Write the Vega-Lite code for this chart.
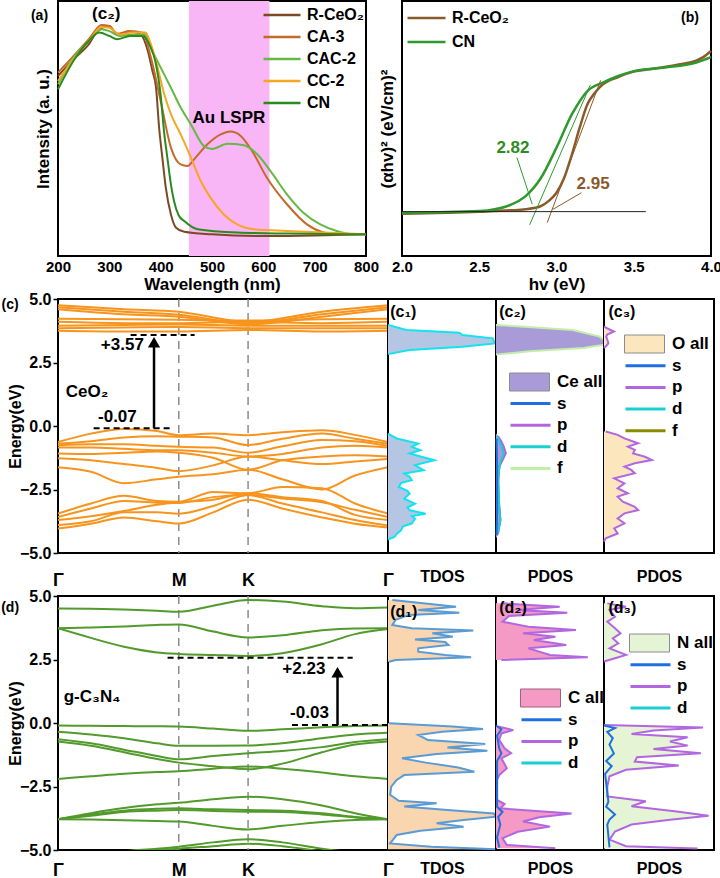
{
"$schema": "https://vega.github.io/schema/vega-lite/v6.json",
"background": "white",
"padding": {"left": 0, "top": 0, "right": 0, "bottom": 0},
"datasets": {
"uv": [
{"s":"R-CeO₂","nm":200,"I":70.6},{"s":"R-CeO₂","nm":230,"I":77.1},{"s":"R-CeO₂","nm":260,"I":83.0},{"s":"R-CeO₂","nm":280,"I":88.9},{"s":"R-CeO₂","nm":300,"I":90.2},{"s":"R-CeO₂","nm":315,"I":86.9},{"s":"R-CeO₂","nm":340,"I":88.0},{"s":"R-CeO₂","nm":360,"I":87.0},{"s":"R-CeO₂","nm":375,"I":80.4},{"s":"R-CeO₂","nm":384,"I":72.5},{"s":"R-CeO₂","nm":391,"I":66.0},{"s":"R-CeO₂","nm":397,"I":50.3},{"s":"R-CeO₂","nm":404,"I":37.3},{"s":"R-CeO₂","nm":410,"I":26.8},{"s":"R-CeO₂","nm":420,"I":16.3},{"s":"R-CeO₂","nm":430,"I":11.1},{"s":"R-CeO₂","nm":446,"I":9.5},{"s":"R-CeO₂","nm":500,"I":8.5},{"s":"R-CeO₂","nm":600,"I":7.8},{"s":"R-CeO₂","nm":700,"I":8.0},{"s":"R-CeO₂","nm":800,"I":8.5},
{"s":"CA-3","nm":200,"I":71.9},{"s":"CA-3","nm":230,"I":78.4},{"s":"CA-3","nm":260,"I":85.0},{"s":"CA-3","nm":285,"I":90.6},{"s":"CA-3","nm":300,"I":90.2},{"s":"CA-3","nm":315,"I":87.2},{"s":"CA-3","nm":340,"I":88.2},{"s":"CA-3","nm":365,"I":87.6},{"s":"CA-3","nm":381,"I":77.8},{"s":"CA-3","nm":400,"I":60.8},{"s":"CA-3","nm":420,"I":42.5},{"s":"CA-3","nm":439,"I":35.9},{"s":"CA-3","nm":452,"I":35.3},{"s":"CA-3","nm":468,"I":38.6},{"s":"CA-3","nm":491,"I":43.8},{"s":"CA-3","nm":517,"I":47.7},{"s":"CA-3","nm":536,"I":48.8},{"s":"CA-3","nm":556,"I":47.1},{"s":"CA-3","nm":578,"I":41.2},{"s":"CA-3","nm":607,"I":30.7},{"s":"CA-3","nm":646,"I":20.3},{"s":"CA-3","nm":685,"I":12.4},{"s":"CA-3","nm":717,"I":9.2},{"s":"CA-3","nm":743,"I":8.5},{"s":"CA-3","nm":800,"I":8.5},
{"s":"CAC-2","nm":200,"I":67.3},{"s":"CAC-2","nm":230,"I":77.8},{"s":"CAC-2","nm":260,"I":84.3},{"s":"CAC-2","nm":285,"I":88.9},{"s":"CAC-2","nm":300,"I":88.2},{"s":"CAC-2","nm":320,"I":86.3},{"s":"CAC-2","nm":345,"I":86.9},{"s":"CAC-2","nm":370,"I":86.9},{"s":"CAC-2","nm":381,"I":81.7},{"s":"CAC-2","nm":400,"I":73.9},{"s":"CAC-2","nm":420,"I":66.0},{"s":"CAC-2","nm":439,"I":58.2},{"s":"CAC-2","nm":459,"I":51.6},{"s":"CAC-2","nm":485,"I":43.0},{"s":"CAC-2","nm":500,"I":42.0},{"s":"CAC-2","nm":530,"I":44.0},{"s":"CAC-2","nm":560,"I":43.5},{"s":"CAC-2","nm":588,"I":39.9},{"s":"CAC-2","nm":614,"I":33.3},{"s":"CAC-2","nm":646,"I":24.2},{"s":"CAC-2","nm":678,"I":17.0},{"s":"CAC-2","nm":711,"I":12.4},{"s":"CAC-2","nm":743,"I":9.8},{"s":"CAC-2","nm":775,"I":8.5},{"s":"CAC-2","nm":800,"I":8.5},
{"s":"CC-2","nm":200,"I":68.6},{"s":"CC-2","nm":230,"I":77.1},{"s":"CC-2","nm":260,"I":84.3},{"s":"CC-2","nm":285,"I":89.8},{"s":"CC-2","nm":300,"I":89.5},{"s":"CC-2","nm":320,"I":86.9},{"s":"CC-2","nm":345,"I":87.6},{"s":"CC-2","nm":370,"I":87.6},{"s":"CC-2","nm":381,"I":83.0},{"s":"CC-2","nm":394,"I":73.9},{"s":"CC-2","nm":407,"I":63.4},{"s":"CC-2","nm":420,"I":55.6},{"s":"CC-2","nm":439,"I":47.7},{"s":"CC-2","nm":459,"I":38.6},{"s":"CC-2","nm":478,"I":29.4},{"s":"CC-2","nm":497,"I":22.9},{"s":"CC-2","nm":523,"I":16.3},{"s":"CC-2","nm":549,"I":12.4},{"s":"CC-2","nm":581,"I":10.5},{"s":"CC-2","nm":646,"I":9.8},{"s":"CC-2","nm":800,"I":8.5},
{"s":"CN","nm":200,"I":65.4},{"s":"CN","nm":230,"I":76.5},{"s":"CN","nm":260,"I":84.3},{"s":"CN","nm":280,"I":87.6},{"s":"CN","nm":300,"I":86.3},{"s":"CN","nm":315,"I":85.0},{"s":"CN","nm":340,"I":86.3},{"s":"CN","nm":365,"I":86.3},{"s":"CN","nm":380,"I":82.0},{"s":"CN","nm":390,"I":76.0},{"s":"CN","nm":400,"I":63.0},{"s":"CN","nm":407,"I":48.0},{"s":"CN","nm":413,"I":38.6},{"s":"CN","nm":420,"I":28.0},{"s":"CN","nm":426,"I":21.6},{"s":"CN","nm":435,"I":16.0},{"s":"CN","nm":446,"I":13.7},{"s":"CN","nm":472,"I":10.5},{"s":"CN","nm":550,"I":9.2},{"s":"CN","nm":650,"I":8.8},{"s":"CN","nm":800,"I":8.5}
],
"tauc": [
{"s":"R-CeO₂","ev":2.0,"v":16.6},{"s":"R-CeO₂","ev":2.5,"v":17.4},{"s":"R-CeO₂","ev":2.7,"v":17.9},{"s":"R-CeO₂","ev":2.8,"v":18.3},{"s":"R-CeO₂","ev":2.9,"v":19.6},{"s":"R-CeO₂","ev":2.95,"v":21.6},{"s":"R-CeO₂","ev":3.0,"v":24.8},{"s":"R-CeO₂","ev":3.05,"v":30.7},{"s":"R-CeO₂","ev":3.1,"v":39.9},{"s":"R-CeO₂","ev":3.15,"v":50.3},{"s":"R-CeO₂","ev":3.2,"v":59.5},{"s":"R-CeO₂","ev":3.25,"v":64.1},{"s":"R-CeO₂","ev":3.3,"v":67.3},{"s":"R-CeO₂","ev":3.4,"v":70.2},{"s":"R-CeO₂","ev":3.5,"v":72.3},{"s":"R-CeO₂","ev":3.6,"v":73.2},{"s":"R-CeO₂","ev":3.7,"v":74.1},{"s":"R-CeO₂","ev":3.8,"v":75.2},{"s":"R-CeO₂","ev":3.9,"v":76.5},{"s":"R-CeO₂","ev":3.95,"v":78.0},{"s":"R-CeO₂","ev":4.0,"v":80.4},
{"s":"CN","ev":2.0,"v":16.9},{"s":"CN","ev":2.5,"v":17.6},{"s":"CN","ev":2.6,"v":18.3},{"s":"CN","ev":2.7,"v":20.0},{"s":"CN","ev":2.8,"v":23.5},{"s":"CN","ev":2.9,"v":30.7},{"s":"CN","ev":3.0,"v":42.5},{"s":"CN","ev":3.1,"v":55.6},{"s":"CN","ev":3.2,"v":64.7},{"s":"CN","ev":3.3,"v":68.0},{"s":"CN","ev":3.4,"v":70.6},{"s":"CN","ev":3.5,"v":72.5},{"s":"CN","ev":3.7,"v":73.9},{"s":"CN","ev":3.9,"v":75.8},{"s":"CN","ev":4.0,"v":78.0}
],
"fits": [
{"f":"g1","kind":"CN","ev":2.826,"v":12.2},{"f":"g1","kind":"CN","ev":3.219,"v":67.1},
{"f":"b1","kind":"R","ev":2.94,"v":13.1},{"f":"b1","kind":"R","ev":3.286,"v":68.9},
{"f":"base","kind":"base","ev":2.0,"v":17.4},{"f":"base","kind":"base","ev":3.578,"v":17.4},
{"f":"g2","kind":"CN","ev":2.744,"v":38.6},{"f":"g2","kind":"CN","ev":2.843,"v":20.3},
{"f":"b2","kind":"R","ev":3.161,"v":24.8},{"f":"b2","kind":"R","ev":2.977,"v":18.3}
],
"cband": [
{"b":"cb1","k":0,"E":4.75},{"b":"cb1","k":0.2,"E":4.6},{"b":"cb1","k":0.366,"E":4.5},{"b":"cb1","k":0.576,"E":4.1},{"b":"cb1","k":0.8,"E":4.5},{"b":"cb1","k":1,"E":4.75},
{"b":"cb2","k":0,"E":4.68},{"b":"cb2","k":0.2,"E":4.5},{"b":"cb2","k":0.366,"E":4.38},{"b":"cb2","k":0.576,"E":4.05},{"b":"cb2","k":0.8,"E":4.4},{"b":"cb2","k":1,"E":4.68},
{"b":"cb3","k":0,"E":4.6},{"b":"cb3","k":0.2,"E":4.4},{"b":"cb3","k":0.366,"E":4.3},{"b":"cb3","k":0.576,"E":4.0},{"b":"cb3","k":0.8,"E":4.3},{"b":"cb3","k":1,"E":4.6},
{"b":"cb4","k":0,"E":4.22},{"b":"cb4","k":0.2,"E":4.2},{"b":"cb4","k":0.366,"E":4.18},{"b":"cb4","k":0.576,"E":4.15},{"b":"cb4","k":0.8,"E":4.2},{"b":"cb4","k":1,"E":4.22},
{"b":"cb5","k":0,"E":4.1},{"b":"cb5","k":0.2,"E":4.05},{"b":"cb5","k":0.366,"E":4.05},{"b":"cb5","k":0.576,"E":4.1},{"b":"cb5","k":0.8,"E":4.05},{"b":"cb5","k":1,"E":4.1},
{"b":"cb6","k":0,"E":3.95},{"b":"cb6","k":0.2,"E":3.98},{"b":"cb6","k":0.366,"E":4.0},{"b":"cb6","k":0.576,"E":3.95},{"b":"cb6","k":0.8,"E":3.95},{"b":"cb6","k":1,"E":3.95},
{"b":"cb7","k":0,"E":3.85},{"b":"cb7","k":0.2,"E":3.88},{"b":"cb7","k":0.366,"E":3.9},{"b":"cb7","k":0.576,"E":3.85},{"b":"cb7","k":0.8,"E":3.85},{"b":"cb7","k":1,"E":3.85},
{"b":"cb8","k":0,"E":3.75},{"b":"cb8","k":0.2,"E":3.72},{"b":"cb8","k":0.366,"E":3.72},{"b":"cb8","k":0.576,"E":3.78},{"b":"cb8","k":0.8,"E":3.72},{"b":"cb8","k":1,"E":3.75},
{"b":"v1","k":0,"E":-0.63},{"b":"v1","k":0.1,"E":-0.3},{"b":"v1","k":0.2,"E":-0.12},{"b":"v1","k":0.3,"E":-0.2},{"b":"v1","k":0.366,"E":-0.36},{"b":"v1","k":0.47,"E":-0.3},{"b":"v1","k":0.576,"E":-0.36},{"b":"v1","k":0.68,"E":-0.25},{"b":"v1","k":0.8,"E":-0.17},{"b":"v1","k":0.9,"E":-0.35},{"b":"v1","k":1,"E":-0.63},
{"b":"v2","k":0,"E":-0.7},{"b":"v2","k":0.1,"E":-0.6},{"b":"v2","k":0.2,"E":-0.45},{"b":"v2","k":0.3,"E":-0.4},{"b":"v2","k":0.366,"E":-0.42},{"b":"v2","k":0.47,"E":-0.45},{"b":"v2","k":0.576,"E":-0.75},{"b":"v2","k":0.68,"E":-0.5},{"b":"v2","k":0.8,"E":-0.3},{"b":"v2","k":0.9,"E":-0.5},{"b":"v2","k":1,"E":-0.7},
{"b":"v3","k":0,"E":-0.76},{"b":"v3","k":0.1,"E":-0.72},{"b":"v3","k":0.2,"E":-0.72},{"b":"v3","k":0.3,"E":-0.78},{"b":"v3","k":0.366,"E":-0.82},{"b":"v3","k":0.47,"E":-0.85},{"b":"v3","k":0.576,"E":-1.05},{"b":"v3","k":0.68,"E":-0.8},{"b":"v3","k":0.8,"E":-0.55},{"b":"v3","k":0.9,"E":-0.6},{"b":"v3","k":1,"E":-0.78},
{"b":"v4","k":0,"E":-0.85},{"b":"v4","k":0.1,"E":-0.85},{"b":"v4","k":0.2,"E":-0.9},{"b":"v4","k":0.3,"E":-0.95},{"b":"v4","k":0.366,"E":-0.95},{"b":"v4","k":0.47,"E":-1.05},{"b":"v4","k":0.576,"E":-1.2},{"b":"v4","k":0.68,"E":-1.1},{"b":"v4","k":0.8,"E":-0.85},{"b":"v4","k":0.9,"E":-0.78},{"b":"v4","k":1,"E":-0.85},
{"b":"v5","k":0,"E":-1.08},{"b":"v5","k":0.1,"E":-1.1},{"b":"v5","k":0.2,"E":-1.05},{"b":"v5","k":0.3,"E":-1.0},{"b":"v5","k":0.366,"E":-1.05},{"b":"v5","k":0.47,"E":-1.25},{"b":"v5","k":0.576,"E":-1.72},{"b":"v5","k":0.68,"E":-1.35},{"b":"v5","k":0.8,"E":-1.2},{"b":"v5","k":0.9,"E":-1.15},{"b":"v5","k":1,"E":-1.2},
{"b":"v6","k":0,"E":-1.27},{"b":"v6","k":0.1,"E":-1.35},{"b":"v6","k":0.2,"E":-1.5},{"b":"v6","k":0.3,"E":-1.65},{"b":"v6","k":0.366,"E":-1.78},{"b":"v6","k":0.47,"E":-1.55},{"b":"v6","k":0.576,"E":-1.2},{"b":"v6","k":0.68,"E":-1.35},{"b":"v6","k":0.8,"E":-1.5},{"b":"v6","k":0.9,"E":-1.4},{"b":"v6","k":1,"E":-1.3},
{"b":"v7","k":0,"E":-1.62},{"b":"v7","k":0.1,"E":-1.8},{"b":"v7","k":0.2,"E":-2.25},{"b":"v7","k":0.3,"E":-2.1},{"b":"v7","k":0.366,"E":-2.0},{"b":"v7","k":0.47,"E":-1.9},{"b":"v7","k":0.576,"E":-1.72},{"b":"v7","k":0.68,"E":-2.1},{"b":"v7","k":0.8,"E":-2.5},{"b":"v7","k":0.9,"E":-1.95},{"b":"v7","k":1,"E":-1.62},
{"b":"v8","k":0,"E":-3.45},{"b":"v8","k":0.1,"E":-3.05},{"b":"v8","k":0.2,"E":-2.75},{"b":"v8","k":0.3,"E":-2.95},{"b":"v8","k":0.366,"E":-2.98},{"b":"v8","k":0.47,"E":-2.6},{"b":"v8","k":0.576,"E":-2.65},{"b":"v8","k":0.68,"E":-2.4},{"b":"v8","k":0.8,"E":-2.45},{"b":"v8","k":0.9,"E":-3.05},{"b":"v8","k":1,"E":-3.45},
{"b":"v9","k":0,"E":-3.58},{"b":"v9","k":0.1,"E":-3.25},{"b":"v9","k":0.2,"E":-2.95},{"b":"v9","k":0.3,"E":-3.02},{"b":"v9","k":0.366,"E":-3.03},{"b":"v9","k":0.47,"E":-2.8},{"b":"v9","k":0.576,"E":-2.72},{"b":"v9","k":0.68,"E":-2.85},{"b":"v9","k":0.8,"E":-3.0},{"b":"v9","k":0.9,"E":-3.3},{"b":"v9","k":1,"E":-3.58},
{"b":"v10","k":0,"E":-3.7},{"b":"v10","k":0.1,"E":-3.55},{"b":"v10","k":0.2,"E":-3.35},{"b":"v10","k":0.3,"E":-3.1},{"b":"v10","k":0.366,"E":-3.0},{"b":"v10","k":0.47,"E":-2.9},{"b":"v10","k":0.576,"E":-2.65},{"b":"v10","k":0.68,"E":-2.8},{"b":"v10","k":0.8,"E":-2.95},{"b":"v10","k":0.9,"E":-3.5},{"b":"v10","k":1,"E":-3.7},
{"b":"v11","k":0,"E":-3.9},{"b":"v11","k":0.1,"E":-3.75},{"b":"v11","k":0.2,"E":-3.4},{"b":"v11","k":0.3,"E":-3.4},{"b":"v11","k":0.366,"E":-3.45},{"b":"v11","k":0.47,"E":-3.15},{"b":"v11","k":0.576,"E":-2.72},{"b":"v11","k":0.68,"E":-3.05},{"b":"v11","k":0.8,"E":-3.4},{"b":"v11","k":0.9,"E":-3.7},{"b":"v11","k":1,"E":-3.92},
{"b":"v12","k":0,"E":-4.04},{"b":"v12","k":0.1,"E":-3.85},{"b":"v12","k":0.2,"E":-3.6},{"b":"v12","k":0.3,"E":-3.75},{"b":"v12","k":0.366,"E":-3.84},{"b":"v12","k":0.47,"E":-3.4},{"b":"v12","k":0.576,"E":-2.9},{"b":"v12","k":0.68,"E":-3.25},{"b":"v12","k":0.8,"E":-3.6},{"b":"v12","k":0.9,"E":-3.85},{"b":"v12","k":1,"E":-4.0}
],
"dband": [
{"b":"c1","k":0,"E":4.51},{"b":"c1","k":0.1,"E":4.5},{"b":"c1","k":0.2,"E":4.47},{"b":"c1","k":0.3,"E":4.42},{"b":"c1","k":0.366,"E":4.38},{"b":"c1","k":0.47,"E":4.62},{"b":"c1","k":0.576,"E":4.84},{"b":"c1","k":0.68,"E":4.78},{"b":"c1","k":0.8,"E":4.6},{"b":"c1","k":0.9,"E":4.52},{"b":"c1","k":1,"E":4.55},
{"b":"c2","k":0,"E":3.73},{"b":"c2","k":0.1,"E":3.76},{"b":"c2","k":0.2,"E":3.8},{"b":"c2","k":0.3,"E":3.86},{"b":"c2","k":0.366,"E":3.88},{"b":"c2","k":0.47,"E":3.6},{"b":"c2","k":0.576,"E":3.37},{"b":"c2","k":0.68,"E":3.45},{"b":"c2","k":0.8,"E":3.65},{"b":"c2","k":0.9,"E":3.72},{"b":"c2","k":1,"E":3.73},
{"b":"c3","k":0,"E":3.73},{"b":"c3","k":0.1,"E":3.35},{"b":"c3","k":0.2,"E":3.0},{"b":"c3","k":0.3,"E":2.78},{"b":"c3","k":0.366,"E":2.72},{"b":"c3","k":0.47,"E":2.68},{"b":"c3","k":0.576,"E":2.64},{"b":"c3","k":0.68,"E":2.75},{"b":"c3","k":0.8,"E":3.1},{"b":"c3","k":0.9,"E":3.5},{"b":"c3","k":1,"E":3.7},
{"b":"v1","k":0,"E":-0.1},{"b":"v1","k":0.1,"E":-0.11},{"b":"v1","k":0.2,"E":-0.12},{"b":"v1","k":0.3,"E":-0.13},{"b":"v1","k":0.366,"E":-0.14},{"b":"v1","k":0.47,"E":-0.22},{"b":"v1","k":0.576,"E":-0.31},{"b":"v1","k":0.68,"E":-0.25},{"b":"v1","k":0.8,"E":-0.17},{"b":"v1","k":0.9,"E":-0.12},{"b":"v1","k":1,"E":-0.1},
{"b":"v2","k":0,"E":-0.34},{"b":"v2","k":0.1,"E":-0.45},{"b":"v2","k":0.2,"E":-0.6},{"b":"v2","k":0.3,"E":-0.8},{"b":"v2","k":0.366,"E":-0.9},{"b":"v2","k":0.47,"E":-0.9},{"b":"v2","k":0.576,"E":-0.89},{"b":"v2","k":0.68,"E":-0.8},{"b":"v2","k":0.8,"E":-0.6},{"b":"v2","k":0.9,"E":-0.45},{"b":"v2","k":1,"E":-0.38},
{"b":"v3","k":0,"E":-0.64},{"b":"v3","k":0.1,"E":-0.8},{"b":"v3","k":0.2,"E":-1.05},{"b":"v3","k":0.3,"E":-1.3},{"b":"v3","k":0.366,"E":-1.43},{"b":"v3","k":0.47,"E":-1.3},{"b":"v3","k":0.576,"E":-1.19},{"b":"v3","k":0.68,"E":-1.1},{"b":"v3","k":0.8,"E":-0.95},{"b":"v3","k":0.9,"E":-0.75},{"b":"v3","k":1,"E":-0.64},
{"b":"v4","k":0,"E":-0.73},{"b":"v4","k":0.1,"E":-0.9},{"b":"v4","k":0.2,"E":-1.15},{"b":"v4","k":0.3,"E":-1.42},{"b":"v4","k":0.366,"E":-1.56},{"b":"v4","k":0.47,"E":-1.7},{"b":"v4","k":0.576,"E":-1.82},{"b":"v4","k":0.68,"E":-1.6},{"b":"v4","k":0.8,"E":-1.15},{"b":"v4","k":0.9,"E":-0.85},{"b":"v4","k":1,"E":-0.73},
{"b":"v5","k":0,"E":-2.2},{"b":"v5","k":0.1,"E":-2.1},{"b":"v5","k":0.2,"E":-2.0},{"b":"v5","k":0.3,"E":-1.93},{"b":"v5","k":0.366,"E":-1.9},{"b":"v5","k":0.47,"E":-1.8},{"b":"v5","k":0.576,"E":-1.71},{"b":"v5","k":0.68,"E":-1.8},{"b":"v5","k":0.8,"E":-1.95},{"b":"v5","k":0.9,"E":-2.1},{"b":"v5","k":1,"E":-2.2},
{"b":"v6","k":0,"E":-3.79},{"b":"v6","k":0.1,"E":-3.55},{"b":"v6","k":0.2,"E":-3.35},{"b":"v6","k":0.3,"E":-3.2},{"b":"v6","k":0.366,"E":-3.14},{"b":"v6","k":0.47,"E":-3.0},{"b":"v6","k":0.576,"E":-2.9},{"b":"v6","k":0.68,"E":-3.0},{"b":"v6","k":0.8,"E":-3.25},{"b":"v6","k":0.9,"E":-3.55},{"b":"v6","k":1,"E":-3.79},
{"b":"v7","k":0,"E":-3.79},{"b":"v7","k":0.1,"E":-3.6},{"b":"v7","k":0.2,"E":-3.45},{"b":"v7","k":0.3,"E":-3.38},{"b":"v7","k":0.366,"E":-3.36},{"b":"v7","k":0.47,"E":-3.4},{"b":"v7","k":0.576,"E":-3.43},{"b":"v7","k":0.68,"E":-3.45},{"b":"v7","k":0.8,"E":-3.55},{"b":"v7","k":0.9,"E":-3.7},{"b":"v7","k":1,"E":-3.79},
{"b":"v8","k":0,"E":-3.79},{"b":"v8","k":0.1,"E":-3.65},{"b":"v8","k":0.2,"E":-3.5},{"b":"v8","k":0.3,"E":-3.45},{"b":"v8","k":0.366,"E":-3.43},{"b":"v8","k":0.47,"E":-3.46},{"b":"v8","k":0.576,"E":-3.49},{"b":"v8","k":0.68,"E":-3.5},{"b":"v8","k":0.8,"E":-3.6},{"b":"v8","k":0.9,"E":-3.72},{"b":"v8","k":1,"E":-3.79},
{"b":"v9","k":0,"E":-3.79},{"b":"v9","k":0.1,"E":-3.8},{"b":"v9","k":0.2,"E":-3.83},{"b":"v9","k":0.3,"E":-3.86},{"b":"v9","k":0.366,"E":-3.88},{"b":"v9","k":0.47,"E":-4.05},{"b":"v9","k":0.576,"E":-4.19},{"b":"v9","k":0.68,"E":-4.05},{"b":"v9","k":0.8,"E":-3.9},{"b":"v9","k":0.9,"E":-3.82},{"b":"v9","k":1,"E":-3.79},
{"b":"v10","k":0,"E":-5.3},{"b":"v10","k":0.1,"E":-5.2},{"b":"v10","k":0.2,"E":-5.05},{"b":"v10","k":0.3,"E":-4.95},{"b":"v10","k":0.366,"E":-4.87},{"b":"v10","k":0.47,"E":-4.7},{"b":"v10","k":0.576,"E":-4.58},{"b":"v10","k":0.68,"E":-4.7},{"b":"v10","k":0.8,"E":-4.95},{"b":"v10","k":0.9,"E":-5.1},{"b":"v10","k":1,"E":-5.2},
{"b":"v11","k":0,"E":-5.4},{"b":"v11","k":0.1,"E":-5.3},{"b":"v11","k":0.2,"E":-5.15},{"b":"v11","k":0.3,"E":-5.0},{"b":"v11","k":0.366,"E":-4.95},{"b":"v11","k":0.47,"E":-4.85},{"b":"v11","k":0.576,"E":-4.75},{"b":"v11","k":0.68,"E":-4.85},{"b":"v11","k":0.8,"E":-5.05},{"b":"v11","k":0.9,"E":-5.2},{"b":"v11","k":1,"E":-5.3}
],
"c1dos": [
{"g":"cb","E":3.98,"v":0.0},{"g":"cb","E":3.78,"v":0.17},{"g":"cb","E":3.67,"v":0.66},{"g":"cb","E":3.58,"v":0.69},{"g":"cb","E":3.45,"v":0.97},{"g":"cb","E":3.25,"v":0.99},{"g":"cb","E":3.12,"v":0.69},{"g":"cb","E":2.99,"v":0.2},{"g":"cb","E":2.83,"v":0.0},
{"g":"vb","E":-0.3,"v":0.0},{"g":"vb","E":-0.49,"v":0.08},{"g":"vb","E":-0.69,"v":0.28},{"g":"vb","E":-0.82,"v":0.22},{"g":"vb","E":-0.95,"v":0.3},{"g":"vb","E":-1.08,"v":0.2},{"g":"vb","E":-1.2,"v":0.3},{"g":"vb","E":-1.35,"v":0.43},{"g":"vb","E":-1.54,"v":0.25},{"g":"vb","E":-1.74,"v":0.33},{"g":"vb","E":-1.87,"v":0.15},{"g":"vb","E":-2.0,"v":0.2},{"g":"vb","E":-2.13,"v":0.22},{"g":"vb","E":-2.25,"v":0.12},{"g":"vb","E":-2.4,"v":0.1},{"g":"vb","E":-2.55,"v":0.18},{"g":"vb","E":-2.66,"v":0.2},{"g":"vb","E":-2.86,"v":0.15},{"g":"vb","E":-3.06,"v":0.25},{"g":"vb","E":-3.2,"v":0.18},{"g":"vb","E":-3.32,"v":0.2},{"g":"vb","E":-3.45,"v":0.35},{"g":"vb","E":-3.55,"v":0.22},{"g":"vb","E":-3.65,"v":0.25},{"g":"vb","E":-3.84,"v":0.22},{"g":"vb","E":-3.95,"v":0.14},{"g":"vb","E":-4.11,"v":0.12},{"g":"vb","E":-4.25,"v":0.08},{"g":"vb","E":-4.37,"v":0.06},{"g":"vb","E":-4.47,"v":0.0}
],
"c2dos": [
{"c":"Ce all","g":"cb","E":3.98,"v":0.0},{"c":"Ce all","g":"cb","E":3.91,"v":0.25},{"c":"Ce all","g":"cb","E":3.78,"v":0.7},{"c":"Ce all","g":"cb","E":3.52,"v":0.95},{"c":"Ce all","g":"cb","E":3.39,"v":1.0},{"c":"Ce all","g":"cb","E":3.2,"v":1.0},{"c":"Ce all","g":"cb","E":3.07,"v":0.8},{"c":"Ce all","g":"cb","E":2.94,"v":0.3},{"c":"Ce all","g":"cb","E":2.81,"v":0.0},
{"c":"Ce all","g":"vb","E":-0.3,"v":0.0},{"c":"Ce all","g":"vb","E":-0.42,"v":0.03},{"c":"Ce all","g":"vb","E":-0.6,"v":0.06},{"c":"Ce all","g":"vb","E":-0.81,"v":0.08},{"c":"Ce all","g":"vb","E":-1.07,"v":0.1},{"c":"Ce all","g":"vb","E":-1.34,"v":0.07},{"c":"Ce all","g":"vb","E":-1.6,"v":0.04},{"c":"Ce all","g":"vb","E":-2.13,"v":0.03},{"c":"Ce all","g":"vb","E":-2.6,"v":0.02},{"c":"Ce all","g":"vb","E":-3.18,"v":0.04},{"c":"Ce all","g":"vb","E":-3.7,"v":0.05},{"c":"Ce all","g":"vb","E":-4.22,"v":0.03},{"c":"Ce all","g":"vb","E":-4.42,"v":0.0},
{"c":"f","g":"cb","E":3.98,"v":0.0},{"c":"f","g":"cb","E":3.91,"v":0.26},{"c":"f","g":"cb","E":3.78,"v":0.71},{"c":"f","g":"cb","E":3.52,"v":0.96},{"c":"f","g":"cb","E":3.39,"v":1.0},{"c":"f","g":"cb","E":3.2,"v":1.0},{"c":"f","g":"cb","E":3.07,"v":0.81},{"c":"f","g":"cb","E":2.94,"v":0.31},{"c":"f","g":"cb","E":2.81,"v":0.0},
{"c":"p","g":"vb","E":-0.4,"v":0.02},{"c":"p","g":"vb","E":-0.8,"v":0.07},{"c":"p","g":"vb","E":-1.07,"v":0.09},{"c":"p","g":"vb","E":-1.34,"v":0.06},{"c":"p","g":"vb","E":-1.6,"v":0.03},{"c":"p","g":"vb","E":-2.2,"v":0.02},{"c":"p","g":"vb","E":-3.2,"v":0.03},{"c":"p","g":"vb","E":-3.7,"v":0.04},{"c":"p","g":"vb","E":-4.3,"v":0.01},
{"c":"d","g":"vb","E":-0.4,"v":0.01},{"c":"d","g":"vb","E":-0.8,"v":0.05},{"c":"d","g":"vb","E":-1.1,"v":0.07},{"c":"d","g":"vb","E":-1.4,"v":0.04},{"c":"d","g":"vb","E":-2.0,"v":0.02},{"c":"d","g":"vb","E":-3.2,"v":0.03},{"c":"d","g":"vb","E":-3.7,"v":0.04},{"c":"d","g":"vb","E":-4.2,"v":0.02},
{"c":"s","g":"vb","E":-0.5,"v":0.005},{"c":"s","g":"vb","E":-1.5,"v":0.01},{"c":"s","g":"vb","E":-3.5,"v":0.01},{"c":"s","g":"vb","E":-4.3,"v":0.005}
],
"c3dos": [
{"c":"O all","g":"cb","E":3.91,"v":0.0},{"c":"O all","g":"cb","E":3.8,"v":0.05},{"c":"O all","g":"cb","E":3.72,"v":0.09},{"c":"O all","g":"cb","E":3.6,"v":0.03},{"c":"O all","g":"cb","E":3.52,"v":0.02},{"c":"O all","g":"cb","E":3.4,"v":0.03},{"c":"O all","g":"cb","E":3.26,"v":0.04},{"c":"O all","g":"cb","E":3.15,"v":0.02},{"c":"O all","g":"cb","E":3.07,"v":0.0},
{"c":"O all","g":"vb","E":-0.22,"v":0.016},{"c":"O all","g":"vb","E":-0.35,"v":0.124},{"c":"O all","g":"vb","E":-0.49,"v":0.186},{"c":"O all","g":"vb","E":-0.68,"v":0.31},{"c":"O all","g":"vb","E":-0.81,"v":0.217},{"c":"O all","g":"vb","E":-0.94,"v":0.28},{"c":"O all","g":"vb","E":-1.08,"v":0.264},{"c":"O all","g":"vb","E":-1.21,"v":0.373},{"c":"O all","g":"vb","E":-1.34,"v":0.435},{"c":"O all","g":"vb","E":-1.47,"v":0.28},{"c":"O all","g":"vb","E":-1.6,"v":0.186},{"c":"O all","g":"vb","E":-1.73,"v":0.248},{"c":"O all","g":"vb","E":-1.86,"v":0.28},{"c":"O all","g":"vb","E":-2.06,"v":0.093},{"c":"O all","g":"vb","E":-2.26,"v":0.186},{"c":"O all","g":"vb","E":-2.45,"v":0.124},{"c":"O all","g":"vb","E":-2.65,"v":0.217},{"c":"O all","g":"vb","E":-2.78,"v":0.124},{"c":"O all","g":"vb","E":-2.98,"v":0.171},{"c":"O all","g":"vb","E":-3.18,"v":0.28},{"c":"O all","g":"vb","E":-3.31,"v":0.31},{"c":"O all","g":"vb","E":-3.44,"v":0.186},{"c":"O all","g":"vb","E":-3.64,"v":0.124},{"c":"O all","g":"vb","E":-3.83,"v":0.186},{"c":"O all","g":"vb","E":-4.03,"v":0.093},{"c":"O all","g":"vb","E":-4.23,"v":0.124},{"c":"O all","g":"vb","E":-4.42,"v":0.016},{"c":"O all","g":"vb","E":-4.55,"v":0.0},
{"c":"p","g":"cb","E":3.91,"v":0.0},{"c":"p","g":"cb","E":3.8,"v":0.05},{"c":"p","g":"cb","E":3.72,"v":0.09},{"c":"p","g":"cb","E":3.6,"v":0.03},{"c":"p","g":"cb","E":3.52,"v":0.02},{"c":"p","g":"cb","E":3.4,"v":0.03},{"c":"p","g":"cb","E":3.26,"v":0.04},{"c":"p","g":"cb","E":3.15,"v":0.02},{"c":"p","g":"cb","E":3.07,"v":0.0},
{"c":"p","g":"vb","E":-0.22,"v":0.016},{"c":"p","g":"vb","E":-0.35,"v":0.124},{"c":"p","g":"vb","E":-0.49,"v":0.186},{"c":"p","g":"vb","E":-0.68,"v":0.31},{"c":"p","g":"vb","E":-0.81,"v":0.217},{"c":"p","g":"vb","E":-0.94,"v":0.28},{"c":"p","g":"vb","E":-1.08,"v":0.264},{"c":"p","g":"vb","E":-1.21,"v":0.373},{"c":"p","g":"vb","E":-1.34,"v":0.435},{"c":"p","g":"vb","E":-1.47,"v":0.28},{"c":"p","g":"vb","E":-1.6,"v":0.186},{"c":"p","g":"vb","E":-1.73,"v":0.248},{"c":"p","g":"vb","E":-1.86,"v":0.28},{"c":"p","g":"vb","E":-2.06,"v":0.093},{"c":"p","g":"vb","E":-2.26,"v":0.186},{"c":"p","g":"vb","E":-2.45,"v":0.124},{"c":"p","g":"vb","E":-2.65,"v":0.217},{"c":"p","g":"vb","E":-2.78,"v":0.124},{"c":"p","g":"vb","E":-2.98,"v":0.171},{"c":"p","g":"vb","E":-3.18,"v":0.28},{"c":"p","g":"vb","E":-3.31,"v":0.31},{"c":"p","g":"vb","E":-3.44,"v":0.186},{"c":"p","g":"vb","E":-3.64,"v":0.124},{"c":"p","g":"vb","E":-3.83,"v":0.186},{"c":"p","g":"vb","E":-4.03,"v":0.093},{"c":"p","g":"vb","E":-4.23,"v":0.124},{"c":"p","g":"vb","E":-4.42,"v":0.016},{"c":"p","g":"vb","E":-4.55,"v":0.0}
],
"d1dos": [
{"g":"cb","E":4.84,"v":0.04},{"g":"cb","E":4.58,"v":0.63},{"g":"cb","E":4.45,"v":0.28},{"g":"cb","E":4.34,"v":0.66},{"g":"cb","E":4.25,"v":0.19},{"g":"cb","E":4.06,"v":0.07},{"g":"cb","E":3.86,"v":0.04},{"g":"cb","E":3.73,"v":0.22},{"g":"cb","E":3.64,"v":0.79},{"g":"cb","E":3.53,"v":0.41},{"g":"cb","E":3.4,"v":0.6},{"g":"cb","E":3.29,"v":0.25},{"g":"cb","E":3.19,"v":0.53},{"g":"cb","E":3.07,"v":0.56},{"g":"cb","E":2.94,"v":0.28},{"g":"cb","E":2.81,"v":0.28},{"g":"cb","E":2.68,"v":0.53},{"g":"cb","E":2.59,"v":0.77},{"g":"cb","E":2.48,"v":0.07},{"g":"cb","E":2.41,"v":0.01},
{"g":"vb","E":-0.01,"v":0.01},{"g":"vb","E":-0.14,"v":0.6},{"g":"vb","E":-0.24,"v":0.88},{"g":"vb","E":-0.34,"v":0.5},{"g":"vb","E":-0.47,"v":0.28},{"g":"vb","E":-0.67,"v":0.37},{"g":"vb","E":-0.83,"v":0.9},{"g":"vb","E":-0.96,"v":0.55},{"g":"vb","E":-1.09,"v":0.92},{"g":"vb","E":-1.22,"v":0.45},{"g":"vb","E":-1.39,"v":0.13},{"g":"vb","E":-1.56,"v":0.35},{"g":"vb","E":-1.75,"v":0.65},{"g":"vb","E":-1.92,"v":0.8},{"g":"vb","E":-2.05,"v":0.15},{"g":"vb","E":-2.24,"v":0.08},{"g":"vb","E":-2.51,"v":0.03},{"g":"vb","E":-2.83,"v":0.02},{"g":"vb","E":-3.06,"v":0.1},{"g":"vb","E":-3.16,"v":0.45},{"g":"vb","E":-3.29,"v":0.15},{"g":"vb","E":-3.43,"v":0.55},{"g":"vb","E":-3.56,"v":0.98},{"g":"vb","E":-3.69,"v":1.0},{"g":"vb","E":-3.82,"v":0.7},{"g":"vb","E":-3.95,"v":0.45},{"g":"vb","E":-4.08,"v":0.7},{"g":"vb","E":-4.24,"v":0.3},{"g":"vb","E":-4.41,"v":0.08},{"g":"vb","E":-4.74,"v":0.02},{"g":"vb","E":-4.87,"v":0.4},{"g":"vb","E":-4.97,"v":1.0}
],
"d2dos": [
{"c":"C all","g":"cb","E":4.71,"v":0.05},{"c":"C all","g":"cb","E":4.58,"v":0.59},{"c":"C all","g":"cb","E":4.45,"v":0.2},{"c":"C all","g":"cb","E":4.34,"v":0.66},{"c":"C all","g":"cb","E":4.21,"v":0.12},{"c":"C all","g":"cb","E":3.99,"v":0.06},{"c":"C all","g":"cb","E":3.79,"v":0.3},{"c":"C all","g":"cb","E":3.66,"v":0.74},{"c":"C all","g":"cb","E":3.53,"v":0.25},{"c":"C all","g":"cb","E":3.4,"v":0.55},{"c":"C all","g":"cb","E":3.27,"v":0.35},{"c":"C all","g":"cb","E":3.07,"v":0.65},{"c":"C all","g":"cb","E":2.94,"v":0.3},{"c":"C all","g":"cb","E":2.81,"v":0.4},{"c":"C all","g":"cb","E":2.68,"v":0.5},{"c":"C all","g":"cb","E":2.59,"v":0.85},{"c":"C all","g":"cb","E":2.48,"v":0.05},
{"c":"C all","g":"vb","E":-0.14,"v":0.02},{"c":"C all","g":"vb","E":-0.28,"v":0.16},{"c":"C all","g":"vb","E":-0.41,"v":0.05},{"c":"C all","g":"vb","E":-0.67,"v":0.03},{"c":"C all","g":"vb","E":-1.0,"v":0.08},{"c":"C all","g":"vb","E":-1.19,"v":0.14},{"c":"C all","g":"vb","E":-1.39,"v":0.05},{"c":"C all","g":"vb","E":-1.78,"v":0.1},{"c":"C all","g":"vb","E":-2.05,"v":0.03},{"c":"C all","g":"vb","E":-2.24,"v":0.01},{"c":"C all","g":"vb","E":-3.03,"v":0.01},{"c":"C all","g":"vb","E":-3.19,"v":0.08},{"c":"C all","g":"vb","E":-3.36,"v":0.04},{"c":"C all","g":"vb","E":-3.56,"v":0.7},{"c":"C all","g":"vb","E":-3.71,"v":0.4},{"c":"C all","g":"vb","E":-3.88,"v":0.25},{"c":"C all","g":"vb","E":-4.08,"v":0.5},{"c":"C all","g":"vb","E":-4.28,"v":0.2},{"c":"C all","g":"vb","E":-4.54,"v":0.06},{"c":"C all","g":"vb","E":-4.8,"v":0.1},{"c":"C all","g":"vb","E":-4.93,"v":0.55},
{"c":"p","g":"cb","E":4.71,"v":0.05},{"c":"p","g":"cb","E":4.58,"v":0.59},{"c":"p","g":"cb","E":4.45,"v":0.2},{"c":"p","g":"cb","E":4.34,"v":0.66},{"c":"p","g":"cb","E":4.21,"v":0.12},{"c":"p","g":"cb","E":3.99,"v":0.06},{"c":"p","g":"cb","E":3.79,"v":0.3},{"c":"p","g":"cb","E":3.66,"v":0.74},{"c":"p","g":"cb","E":3.53,"v":0.25},{"c":"p","g":"cb","E":3.4,"v":0.55},{"c":"p","g":"cb","E":3.27,"v":0.35},{"c":"p","g":"cb","E":3.07,"v":0.65},{"c":"p","g":"cb","E":2.94,"v":0.3},{"c":"p","g":"cb","E":2.81,"v":0.4},{"c":"p","g":"cb","E":2.68,"v":0.5},{"c":"p","g":"cb","E":2.59,"v":0.85},{"c":"p","g":"cb","E":2.48,"v":0.05},
{"c":"p","g":"vb","E":-0.14,"v":0.02},{"c":"p","g":"vb","E":-0.28,"v":0.16},{"c":"p","g":"vb","E":-0.41,"v":0.05},{"c":"p","g":"vb","E":-0.67,"v":0.03},{"c":"p","g":"vb","E":-1.0,"v":0.08},{"c":"p","g":"vb","E":-1.19,"v":0.14},{"c":"p","g":"vb","E":-1.39,"v":0.05},{"c":"p","g":"vb","E":-1.78,"v":0.1},{"c":"p","g":"vb","E":-2.05,"v":0.03},{"c":"p","g":"vb","E":-2.24,"v":0.01},{"c":"p","g":"vb","E":-3.03,"v":0.01},{"c":"p","g":"vb","E":-3.19,"v":0.08},{"c":"p","g":"vb","E":-3.36,"v":0.04},{"c":"p","g":"vb","E":-3.56,"v":0.7},{"c":"p","g":"vb","E":-3.71,"v":0.4},{"c":"p","g":"vb","E":-3.88,"v":0.25},{"c":"p","g":"vb","E":-4.08,"v":0.5},{"c":"p","g":"vb","E":-4.28,"v":0.2},{"c":"p","g":"vb","E":-4.54,"v":0.06},{"c":"p","g":"vb","E":-4.8,"v":0.1},{"c":"p","g":"vb","E":-4.93,"v":0.55},
{"c":"s","g":"vb","E":-0.1,"v":0.0},{"c":"s","g":"vb","E":-0.25,"v":0.05},{"c":"s","g":"vb","E":-0.5,"v":0.01},{"c":"s","g":"vb","E":-1.0,"v":0.03},{"c":"s","g":"vb","E":-1.2,"v":0.05},{"c":"s","g":"vb","E":-1.5,"v":0.01},{"c":"s","g":"vb","E":-3.3,"v":0.01},{"c":"s","g":"vb","E":-3.5,"v":0.06},{"c":"s","g":"vb","E":-3.7,"v":0.02},{"c":"s","g":"vb","E":-4.0,"v":0.04},{"c":"s","g":"vb","E":-4.5,"v":0.01},{"c":"s","g":"vb","E":-4.9,"v":0.03}
],
"d3dos": [
{"c":"N all","g":"cb","E":4.71,"v":0.03},{"c":"N all","g":"cb","E":4.58,"v":0.2},{"c":"N all","g":"cb","E":4.45,"v":0.05},{"c":"N all","g":"cb","E":4.18,"v":0.1},{"c":"N all","g":"cb","E":3.99,"v":0.03},{"c":"N all","g":"cb","E":3.73,"v":0.1},{"c":"N all","g":"cb","E":3.53,"v":0.15},{"c":"N all","g":"cb","E":3.33,"v":0.08},{"c":"N all","g":"cb","E":3.14,"v":0.13},{"c":"N all","g":"cb","E":2.94,"v":0.05},{"c":"N all","g":"cb","E":2.68,"v":0.2},{"c":"N all","g":"cb","E":2.55,"v":0.1},{"c":"N all","g":"cb","E":2.42,"v":0.0},
{"c":"N all","g":"vb","E":-0.08,"v":0.0},{"c":"N all","g":"vb","E":-0.18,"v":0.95},{"c":"N all","g":"vb","E":-0.3,"v":0.45},{"c":"N all","g":"vb","E":-0.43,"v":0.25},{"c":"N all","g":"vb","E":-0.56,"v":0.8},{"c":"N all","g":"vb","E":-0.73,"v":0.6},{"c":"N all","g":"vb","E":-0.89,"v":0.8},{"c":"N all","g":"vb","E":-1.02,"v":0.45},{"c":"N all","g":"vb","E":-1.19,"v":0.93},{"c":"N all","g":"vb","E":-1.35,"v":0.3},{"c":"N all","g":"vb","E":-1.52,"v":0.28},{"c":"N all","g":"vb","E":-1.67,"v":0.72},{"c":"N all","g":"vb","E":-1.84,"v":0.2},{"c":"N all","g":"vb","E":-2.1,"v":0.05},{"c":"N all","g":"vb","E":-2.5,"v":0.03},{"c":"N all","g":"vb","E":-2.89,"v":0.03},{"c":"N all","g":"vb","E":-3.08,"v":0.4},{"c":"N all","g":"vb","E":-3.28,"v":0.25},{"c":"N all","g":"vb","E":-3.48,"v":0.7},{"c":"N all","g":"vb","E":-3.65,"v":1.0},{"c":"N all","g":"vb","E":-3.81,"v":0.6},{"c":"N all","g":"vb","E":-4.0,"v":0.25},{"c":"N all","g":"vb","E":-4.27,"v":0.1},{"c":"N all","g":"vb","E":-4.59,"v":0.05},{"c":"N all","g":"vb","E":-4.85,"v":0.2},{"c":"N all","g":"vb","E":-4.94,"v":0.9},
{"c":"p","g":"cb","E":4.71,"v":0.03},{"c":"p","g":"cb","E":4.58,"v":0.2},{"c":"p","g":"cb","E":4.45,"v":0.05},{"c":"p","g":"cb","E":4.18,"v":0.1},{"c":"p","g":"cb","E":3.99,"v":0.03},{"c":"p","g":"cb","E":3.73,"v":0.1},{"c":"p","g":"cb","E":3.53,"v":0.15},{"c":"p","g":"cb","E":3.33,"v":0.08},{"c":"p","g":"cb","E":3.14,"v":0.13},{"c":"p","g":"cb","E":2.94,"v":0.05},{"c":"p","g":"cb","E":2.68,"v":0.2},{"c":"p","g":"cb","E":2.55,"v":0.1},{"c":"p","g":"cb","E":2.42,"v":0.0},
{"c":"p","g":"vb","E":-0.08,"v":0.0},{"c":"p","g":"vb","E":-0.18,"v":0.9},{"c":"p","g":"vb","E":-0.3,"v":0.45},{"c":"p","g":"vb","E":-0.43,"v":0.25},{"c":"p","g":"vb","E":-0.56,"v":0.76},{"c":"p","g":"vb","E":-0.73,"v":0.6},{"c":"p","g":"vb","E":-0.89,"v":0.76},{"c":"p","g":"vb","E":-1.02,"v":0.45},{"c":"p","g":"vb","E":-1.19,"v":0.88},{"c":"p","g":"vb","E":-1.35,"v":0.3},{"c":"p","g":"vb","E":-1.52,"v":0.28},{"c":"p","g":"vb","E":-1.67,"v":0.68},{"c":"p","g":"vb","E":-1.84,"v":0.2},{"c":"p","g":"vb","E":-2.1,"v":0.05},{"c":"p","g":"vb","E":-2.5,"v":0.03},{"c":"p","g":"vb","E":-2.89,"v":0.03},{"c":"p","g":"vb","E":-3.08,"v":0.38},{"c":"p","g":"vb","E":-3.28,"v":0.25},{"c":"p","g":"vb","E":-3.48,"v":0.66},{"c":"p","g":"vb","E":-3.65,"v":0.95},{"c":"p","g":"vb","E":-3.81,"v":0.6},{"c":"p","g":"vb","E":-4.0,"v":0.25},{"c":"p","g":"vb","E":-4.27,"v":0.1},{"c":"p","g":"vb","E":-4.59,"v":0.05},{"c":"p","g":"vb","E":-4.85,"v":0.2},{"c":"p","g":"vb","E":-4.94,"v":0.85},
{"c":"s","g":"vb","E":-0.1,"v":0.0},{"c":"s","g":"vb","E":-0.2,"v":0.1},{"c":"s","g":"vb","E":-0.35,"v":0.03},{"c":"s","g":"vb","E":-0.6,"v":0.08},{"c":"s","g":"vb","E":-0.85,"v":0.05},{"c":"s","g":"vb","E":-1.2,"v":0.09},{"c":"s","g":"vb","E":-1.5,"v":0.02},{"c":"s","g":"vb","E":-1.7,"v":0.07},{"c":"s","g":"vb","E":-2.0,"v":0.01},{"c":"s","g":"vb","E":-3.1,"v":0.04},{"c":"s","g":"vb","E":-3.3,"v":0.02},{"c":"s","g":"vb","E":-3.6,"v":0.1},{"c":"s","g":"vb","E":-3.8,"v":0.05},{"c":"s","g":"vb","E":-4.0,"v":0.03},{"c":"s","g":"vb","E":-4.9,"v":0.05}
]
},
"vconcat": [
{"hconcat": [
 {"width": 308, "height": 255,
  "layer": [
   {"data": {"values": [{"a": 455, "b": 612}]}, "mark": {"type": "rect", "color": "#f9b6f6"},
    "encoding": {"x": {"field": "a", "type": "quantitative", "scale": {"domain": [200, 800], "nice": false}, "axis": {"values": [200,300,400,500,600,700,800], "format": "d", "ticks": false, "labelPadding": 3, "labelFontSize": 15, "title": "Wavelength (nm)", "titleFontSize": 17, "titlePadding": 2, "labelFlush": false, "labelOverlap": false, "labelBound": false}}, "x2": {"field": "b"}}},
   {"data": {"name": "uv"}, "mark": {"type": "line", "strokeWidth": 2, "interpolate": "monotone"},
    "encoding": {"x": {"field": "nm", "type": "quantitative"},
     "y": {"field": "I", "type": "quantitative", "scale": {"domain": [0, 100], "nice": false}, "axis": {"labels": false, "ticks": false, "title": "Intensity (a. u.)", "titleFontSize": 17, "titlePadding": 6}},
     "color": {"field": "s", "type": "nominal", "scale": {"domain": ["R-CeO₂","CA-3","CAC-2","CC-2","CN"], "range": ["#7b4a25","#c46a2a","#66b845","#f6a623","#2a8a1f"]},
      "legend": {"orient": "none", "legendX": 204, "legendY": 4, "title": null, "symbolType": "stroke", "symbolSize": 1369, "symbolStrokeWidth": 2.5, "clipHeight": 20, "rowPadding": 2, "labelFontSize": 16, "labelOffset": 5, "labelLimit": 200}}}},
   {"data": {"values": [{"t": "Au LSPR", "x": 533, "y": 54.2}, {"t": "(c₂)", "x": 294, "y": 94.8}]}, "mark": {"type": "text", "fontSize": 17, "fontWeight": "bold", "color": "black"},
    "encoding": {"x": {"field": "x", "type": "quantitative"}, "y": {"field": "y", "type": "quantitative"}, "text": {"field": "t"}}},
   {"data": {"values": [{"t": "(a)", "x": 164, "y": 94.1}]}, "mark": {"type": "text", "fontSize": 14, "fontWeight": "bold", "color": "black"},
    "encoding": {"x": {"field": "x", "type": "quantitative"}, "y": {"field": "y", "type": "quantitative"}, "text": {"field": "t"}}},
   {"data": {"values": [{"t": "(c)", "x": 114.5, "y": 94.1}]}, "mark": {"type": "text", "fontSize": 14, "fontWeight": "bold", "color": "black", "opacity": 0},
    "encoding": {"x": {"field": "x", "type": "quantitative"}, "y": {"field": "y", "type": "quantitative"}, "text": {"field": "t"}}}
  ]},
 {"width": 309, "height": 255,
  "layer": [
   {"data": {"name": "tauc"}, "mark": {"type": "line", "strokeWidth": 2.5, "interpolate": "monotone"},
    "encoding": {"x": {"field": "ev", "type": "quantitative", "scale": {"domain": [2, 4], "nice": false}, "axis": {"values": [2,2.5,3,3.5,4], "format": ".1f", "ticks": false, "labelPadding": 3, "labelFontSize": 15, "title": "hv (eV)", "titleFontSize": 17, "titlePadding": 2, "labelFlush": false, "labelOverlap": false, "labelBound": false}},
     "y": {"field": "v", "type": "quantitative", "scale": {"domain": [0, 100], "nice": false}, "axis": {"labels": false, "ticks": false, "title": "(αhv)² (eV/cm)²", "titleFontSize": 17, "titlePadding": 6}},
     "color": {"field": "s", "type": "nominal", "scale": {"domain": ["R-CeO₂","CN"], "range": ["#8b5a2b","#2e9a2e"]},
      "legend": {"orient": "none", "legendX": 4, "legendY": 7, "title": null, "symbolType": "stroke", "symbolSize": 1444, "symbolStrokeWidth": 2.5, "clipHeight": 20, "rowPadding": 4, "labelFontSize": 16, "labelOffset": 5, "labelLimit": 200}}}},
   {"data": {"name": "fits"}, "mark": {"type": "line", "strokeWidth": 1},
    "encoding": {"x": {"field": "ev", "type": "quantitative"}, "y": {"field": "v", "type": "quantitative"}, "detail": {"field": "f"},
     "stroke": {"field": "kind", "type": "nominal", "scale": {"domain": ["CN","R","base"], "range": ["#2e9a2e","#8b5a2b","#222222"]}, "legend": null}}},
   {"data": {"values": [{"t": "2.82", "x": 2.718, "y": 42.5}]}, "mark": {"type": "text", "fontSize": 17, "fontWeight": "bold", "color": "#2e8b1e"},
    "encoding": {"x": {"field": "x", "type": "quantitative"}, "y": {"field": "y", "type": "quantitative"}, "text": {"field": "t"}}},
   {"data": {"values": [{"t": "2.95", "x": 3.237, "y": 28.4}]}, "mark": {"type": "text", "fontSize": 17, "fontWeight": "bold", "color": "#8b5a2b"},
    "encoding": {"x": {"field": "x", "type": "quantitative"}, "y": {"field": "y", "type": "quantitative"}, "text": {"field": "t"}}},
   {"data": {"values": [{"t": "(b)", "x": 3.864, "y": 93.5}]}, "mark": {"type": "text", "fontSize": 14, "fontWeight": "bold", "color": "black"},
    "encoding": {"x": {"field": "x", "type": "quantitative"}, "y": {"field": "y", "type": "quantitative"}, "text": {"field": "t"}}}
  ]}
 ], "spacing": 36, "bounds": "flush",
 "resolve": {"scale": {"color": "independent", "stroke": "independent", "fill": "independent"}, "legend": {"color": "independent", "stroke": "independent", "fill": "independent"}}},
{"hconcat": [
 {"width": 330, "height": 254,
  "layer": [
   {"data": {"values": [{"k": 0.366}, {"k": 0.576}]}, "mark": {"type": "rule", "color": "#8c8c8c", "strokeDash": [8, 6], "strokeWidth": 1.5},
    "encoding": {"x": {"field": "k", "type": "quantitative", "scale": {"domain": [0, 1], "nice": false}, "axis": {"values": [0, 0.366, 0.576, 1], "labelExpr": "datum.value == 0 || datum.value == 1 ? 'Γ' : (datum.value < 0.5 ? 'M' : 'K')", "ticks": false, "labelPadding": 18, "labelFontSize": 18, "labelFlush": false, "labelOverlap": false, "labelBound": false, "title": null}}}},
   {"data": {"name": "cband"}, "mark": {"type": "line", "color": "#f7941d", "strokeWidth": 2, "interpolate": "monotone", "clip": true},
    "encoding": {"x": {"field": "k", "type": "quantitative"},
     "y": {"field": "E", "type": "quantitative", "scale": {"domain": [-5, 5], "nice": false}, "axis": {"values": [-5, -2.5, 0, 2.5, 5], "format": ".1f", "title": "Energy(eV)", "tickSize": 5, "labelPadding": 2, "titlePadding": -4, "labelFontSize": 16, "titleFontSize": 16}},
     "detail": {"field": "b"}}},
   {"data": {"values": [{"k1": 0.22, "k2": 0.414, "E": 3.58}, {"k1": 0.108, "k2": 0.347, "E": -0.09}]}, "mark": {"type": "rule", "color": "black", "strokeDash": [6, 4], "strokeWidth": 2},
    "encoding": {"x": {"field": "k1", "type": "quantitative"}, "x2": {"field": "k2"}, "y": {"field": "E", "type": "quantitative"}}},
   {"data": {"values": [{"k": 0.291, "E1": -0.09, "E2": 3.2}]}, "mark": {"type": "rule", "color": "black", "strokeWidth": 2.5},
    "encoding": {"x": {"field": "k", "type": "quantitative"}, "y": {"field": "E1", "type": "quantitative"}, "y2": {"field": "E2"}}},
   {"data": {"values": [{"k": 0.291, "E": 3.3}]}, "mark": {"type": "point", "shape": "triangle-up", "filled": true, "color": "black", "size": 150, "opacity": 1},
    "encoding": {"x": {"field": "k", "type": "quantitative"}, "y": {"field": "E", "type": "quantitative"}}},
   {"data": {"values": [{"t": "+3.57", "k": 0.195, "E": 3.19}, {"t": "-0.07", "k": 0.18, "E": 0.37}, {"t": "CeO₂", "k": 0.088, "E": 1.35}]}, "mark": {"type": "text", "fontSize": 17, "fontWeight": "bold", "color": "black"},
    "encoding": {"x": {"field": "k", "type": "quantitative"}, "y": {"field": "E", "type": "quantitative"}, "text": {"field": "t"}}},
   {"data": {"values": [{"t": "(c)", "k": -0.145, "E": 4.76}]}, "mark": {"type": "text", "fontSize": 14, "fontWeight": "bold", "color": "black"},
    "encoding": {"x": {"field": "k", "type": "quantitative"}, "y": {"field": "E", "type": "quantitative"}, "text": {"field": "t"}}}
  ]},
 {"width": 108, "height": 254,
  "layer": [
   {"data": {"name": "c1dos"}, "mark": {"type": "area", "orient": "horizontal", "color": "#b4c6e4", "opacity": 1},
    "encoding": {"x": {"field": "v", "type": "quantitative", "stack": null, "scale": {"domain": [0, 1], "nice": false}, "axis": {"labels": false, "ticks": false, "title": "TDOS", "titleFontSize": 16, "titlePadding": 15}},
     "y": {"field": "E", "type": "quantitative", "scale": {"domain": [-5, 5], "nice": false}, "axis": null}, "detail": {"field": "g"}}},
   {"data": {"name": "c1dos"}, "mark": {"type": "line", "color": "#12e3ee", "strokeWidth": 2},
    "encoding": {"x": {"field": "v", "type": "quantitative"}, "y": {"field": "E", "type": "quantitative"}, "detail": {"field": "g"}, "order": {"field": "E", "type": "quantitative"}}},
   {"data": {"values": [{"t": "(c₁)", "v": 0.02, "E": 4.5}]}, "mark": {"type": "text", "fontSize": 16, "fontWeight": "bold", "color": "black", "align": "left"},
    "encoding": {"x": {"field": "v", "type": "quantitative"}, "y": {"field": "E", "type": "quantitative"}, "text": {"field": "t"}}}
  ]},
 {"width": 108, "height": 254,
  "layer": [
   {"data": {"name": "c2dos"}, "transform": [{"filter": "datum.c === 'Ce all'"}], "mark": {"type": "area", "orient": "horizontal", "opacity": 1},
    "encoding": {"x": {"field": "v", "type": "quantitative", "stack": null, "scale": {"domain": [0, 1], "nice": false}, "axis": {"labels": false, "ticks": false, "title": "PDOS", "titleFontSize": 16, "titlePadding": 15}},
     "y": {"field": "E", "type": "quantitative", "scale": {"domain": [-5, 5], "nice": false}, "axis": null}, "detail": {"field": "g"},
     "fill": {"field": "c", "type": "nominal", "scale": {"domain": ["Ce all"], "range": ["#a99ad8"]},
      "legend": {"orient": "none", "legendX": 13, "legendY": 73, "title": null, "symbolType": "M-1,-0.45H1V0.45H-1Z", "symbolSize": 1600, "symbolStrokeColor": "#8c8c8c", "symbolStrokeWidth": 1, "symbolOpacity": 1, "clipHeight": 20, "labelFontSize": 17, "labelOffset": 7, "labelLimit": 200}}}},
   {"data": {"name": "c2dos"}, "transform": [{"filter": "datum.c !== 'Ce all'"}], "mark": {"type": "line", "strokeWidth": 2},
    "encoding": {"x": {"field": "v", "type": "quantitative"}, "y": {"field": "E", "type": "quantitative"}, "detail": {"field": "g"}, "order": {"field": "E", "type": "quantitative"},
     "stroke": {"field": "c", "type": "nominal", "scale": {"domain": ["s","p","d","f"], "range": ["#1f6fe0","#b266e0","#19cfcf","#c3eeaa"]},
      "legend": {"orient": "none", "legendX": 13, "legendY": 94.6, "title": null, "symbolType": "stroke", "symbolSize": 1600, "symbolStrokeWidth": 3, "clipHeight": 20, "rowPadding": 1.6, "labelFontSize": 17, "labelOffset": 5, "labelLimit": 200}}}},
   {"data": {"values": [{"t": "(c₂)", "v": 0.03, "E": 4.5}]}, "mark": {"type": "text", "fontSize": 16, "fontWeight": "bold", "color": "black", "align": "left"},
    "encoding": {"x": {"field": "v", "type": "quantitative"}, "y": {"field": "E", "type": "quantitative"}, "text": {"field": "t"}}}
  ]},
 {"width": 110, "height": 254,
  "layer": [
   {"data": {"name": "c3dos"}, "transform": [{"filter": "datum.c === 'O all'"}], "mark": {"type": "area", "orient": "horizontal", "opacity": 1},
    "encoding": {"x": {"field": "v", "type": "quantitative", "stack": null, "scale": {"domain": [0, 1], "nice": false}, "axis": {"labels": false, "ticks": false, "title": "PDOS", "titleFontSize": 16, "titlePadding": 15}},
     "y": {"field": "E", "type": "quantitative", "scale": {"domain": [-5, 5], "nice": false}, "axis": null}, "detail": {"field": "g"},
     "fill": {"field": "c", "type": "nominal", "scale": {"domain": ["O all"], "range": ["#fbe6bd"]},
      "legend": {"orient": "none", "legendX": 20, "legendY": 35, "title": null, "symbolType": "M-1,-0.45H1V0.45H-1Z", "symbolSize": 1600, "symbolStrokeColor": "#8c8c8c", "symbolStrokeWidth": 1, "symbolOpacity": 1, "clipHeight": 20, "labelFontSize": 17, "labelOffset": 7, "labelLimit": 200}}}},
   {"data": {"name": "c3dos"}, "transform": [{"filter": "datum.c !== 'O all'"}], "mark": {"type": "line", "strokeWidth": 2},
    "encoding": {"x": {"field": "v", "type": "quantitative"}, "y": {"field": "E", "type": "quantitative"}, "detail": {"field": "g"}, "order": {"field": "E", "type": "quantitative"},
     "stroke": {"field": "c", "type": "nominal", "scale": {"domain": ["s","p","d","f"], "range": ["#1f6fe0","#b266e0","#19cfcf","#8b8b00"]},
      "legend": {"orient": "none", "legendX": 20, "legendY": 56.7, "title": null, "symbolType": "stroke", "symbolSize": 1600, "symbolStrokeWidth": 3, "clipHeight": 20, "rowPadding": 1.7, "labelFontSize": 17, "labelOffset": 5, "labelLimit": 200}}}},
   {"data": {"values": [{"t": "(c₃)", "v": 0.04, "E": 4.5}]}, "mark": {"type": "text", "fontSize": 16, "fontWeight": "bold", "color": "black", "align": "left"},
    "encoding": {"x": {"field": "v", "type": "quantitative"}, "y": {"field": "E", "type": "quantitative"}, "text": {"field": "t"}}}
  ]}
 ], "spacing": 0, "bounds": "flush",
 "resolve": {"scale": {"color": "independent", "stroke": "independent", "fill": "independent"}, "legend": {"color": "independent", "stroke": "independent", "fill": "independent"}}},
{"hconcat": [
 {"width": 330, "height": 254,
  "layer": [
   {"data": {"values": [{"k": 0.366}, {"k": 0.576}]}, "mark": {"type": "rule", "color": "#8c8c8c", "strokeDash": [8, 6], "strokeWidth": 1.5},
    "encoding": {"x": {"field": "k", "type": "quantitative", "scale": {"domain": [0, 1], "nice": false}, "axis": {"values": [0, 0.366, 0.576, 1], "labelExpr": "datum.value == 0 || datum.value == 1 ? 'Γ' : (datum.value < 0.5 ? 'M' : 'K')", "ticks": false, "labelPadding": 11, "labelFontSize": 18, "labelFlush": false, "labelOverlap": false, "labelBound": false, "title": null}}}},
   {"data": {"name": "dband"}, "mark": {"type": "line", "color": "#519a2b", "strokeWidth": 2, "interpolate": "monotone", "clip": true},
    "encoding": {"x": {"field": "k", "type": "quantitative"},
     "y": {"field": "E", "type": "quantitative", "scale": {"domain": [-5, 5], "nice": false}, "axis": {"values": [-5, -2.5, 0, 2.5, 5], "format": ".1f", "title": "Energy(eV)", "tickSize": 5, "labelPadding": 2, "titlePadding": -4, "labelFontSize": 16, "titleFontSize": 16}},
     "detail": {"field": "b"}}},
   {"data": {"values": [{"k1": 0.332, "k2": 0.893, "E": 2.57}, {"k1": 0.709, "k2": 1.0, "E": -0.08}]}, "mark": {"type": "rule", "color": "black", "strokeDash": [6, 4], "strokeWidth": 2},
    "encoding": {"x": {"field": "k1", "type": "quantitative"}, "x2": {"field": "k2"}, "y": {"field": "E", "type": "quantitative"}}},
   {"data": {"values": [{"k": 0.847, "E1": -0.08, "E2": 1.9}]}, "mark": {"type": "rule", "color": "black", "strokeWidth": 2.5},
    "encoding": {"x": {"field": "k", "type": "quantitative"}, "y": {"field": "E1", "type": "quantitative"}, "y2": {"field": "E2"}}},
   {"data": {"values": [{"k": 0.847, "E": 2.0}]}, "mark": {"type": "point", "shape": "triangle-up", "filled": true, "color": "black", "size": 150, "opacity": 1},
    "encoding": {"x": {"field": "k", "type": "quantitative"}, "y": {"field": "E", "type": "quantitative"}}},
   {"data": {"values": [{"t": "+2.23", "k": 0.745, "E": 2.11}, {"t": "-0.03", "k": 0.762, "E": 0.38}, {"t": "g-C₃N₄", "k": 0.103, "E": 1.04}]}, "mark": {"type": "text", "fontSize": 17, "fontWeight": "bold", "color": "black"},
    "encoding": {"x": {"field": "k", "type": "quantitative"}, "y": {"field": "E", "type": "quantitative"}, "text": {"field": "t"}}},
   {"data": {"values": [{"t": "(d)", "k": -0.145, "E": 4.53}]}, "mark": {"type": "text", "fontSize": 14, "fontWeight": "bold", "color": "black"},
    "encoding": {"x": {"field": "k", "type": "quantitative"}, "y": {"field": "E", "type": "quantitative"}, "text": {"field": "t"}}}
  ]},
 {"width": 108, "height": 254,
  "layer": [
   {"data": {"name": "d1dos"}, "mark": {"type": "area", "orient": "horizontal", "color": "#f9d5b0", "opacity": 1},
    "encoding": {"x": {"field": "v", "type": "quantitative", "stack": null, "scale": {"domain": [0, 1], "nice": false}, "axis": {"labels": false, "ticks": false, "title": "TDOS", "titleFontSize": 16, "titlePadding": 10}},
     "y": {"field": "E", "type": "quantitative", "scale": {"domain": [-5, 5], "nice": false}, "axis": null}, "detail": {"field": "g"}}},
   {"data": {"name": "d1dos"}, "mark": {"type": "line", "color": "#5b9bd5", "strokeWidth": 2},
    "encoding": {"x": {"field": "v", "type": "quantitative"}, "y": {"field": "E", "type": "quantitative"}, "detail": {"field": "g"}, "order": {"field": "E", "type": "quantitative"}}},
   {"data": {"values": [{"t": "(d₁)", "v": 0.02, "E": 4.38}]}, "mark": {"type": "text", "fontSize": 16, "fontWeight": "bold", "color": "black", "align": "left"},
    "encoding": {"x": {"field": "v", "type": "quantitative"}, "y": {"field": "E", "type": "quantitative"}, "text": {"field": "t"}}}
  ]},
 {"width": 108, "height": 254,
  "layer": [
   {"data": {"name": "d2dos"}, "transform": [{"filter": "datum.c === 'C all'"}], "mark": {"type": "area", "orient": "horizontal", "opacity": 1},
    "encoding": {"x": {"field": "v", "type": "quantitative", "stack": null, "scale": {"domain": [0, 1], "nice": false}, "axis": {"labels": false, "ticks": false, "title": "PDOS", "titleFontSize": 16, "titlePadding": 10}},
     "y": {"field": "E", "type": "quantitative", "scale": {"domain": [-5, 5], "nice": false}, "axis": null}, "detail": {"field": "g"},
     "fill": {"field": "c", "type": "nominal", "scale": {"domain": ["C all"], "range": ["#f59ac4"]},
      "legend": {"orient": "none", "legendX": 24, "legendY": 92, "title": null, "symbolType": "M-1,-0.45H1V0.45H-1Z", "symbolSize": 1600, "symbolStrokeColor": "#a06080", "symbolStrokeWidth": 1, "symbolOpacity": 1, "clipHeight": 20, "labelFontSize": 17, "labelOffset": 7, "labelLimit": 200}}}},
   {"data": {"name": "d2dos"}, "transform": [{"filter": "datum.c !== 'C all'"}], "mark": {"type": "line", "strokeWidth": 2},
    "encoding": {"x": {"field": "v", "type": "quantitative"}, "y": {"field": "E", "type": "quantitative"}, "detail": {"field": "g"}, "order": {"field": "E", "type": "quantitative"},
     "stroke": {"field": "c", "type": "nominal", "scale": {"domain": ["s","p","d"], "range": ["#1f6fe0","#b266e0","#19cfcf"]},
      "legend": {"orient": "none", "legendX": 24, "legendY": 113.7, "title": null, "symbolType": "stroke", "symbolSize": 1600, "symbolStrokeWidth": 3, "clipHeight": 20, "rowPadding": 1.7, "labelFontSize": 17, "labelOffset": 5, "labelLimit": 200}}}},
   {"data": {"values": [{"t": "(d₂)", "v": 0.03, "E": 4.53}]}, "mark": {"type": "text", "fontSize": 16, "fontWeight": "bold", "color": "black", "align": "left"},
    "encoding": {"x": {"field": "v", "type": "quantitative"}, "y": {"field": "E", "type": "quantitative"}, "text": {"field": "t"}}}
  ]},
 {"width": 110, "height": 254,
  "layer": [
   {"data": {"name": "d3dos"}, "transform": [{"filter": "datum.c === 'N all'"}], "mark": {"type": "area", "orient": "horizontal", "opacity": 1},
    "encoding": {"x": {"field": "v", "type": "quantitative", "stack": null, "scale": {"domain": [0, 1], "nice": false}, "axis": {"labels": false, "ticks": false, "title": "PDOS", "titleFontSize": 16, "titlePadding": 10}},
     "y": {"field": "E", "type": "quantitative", "scale": {"domain": [-5, 5], "nice": false}, "axis": null}, "detail": {"field": "g"},
     "fill": {"field": "c", "type": "nominal", "scale": {"domain": ["N all"], "range": ["#e6f4d6"]},
      "legend": {"orient": "none", "legendX": 25, "legendY": 37, "title": null, "symbolType": "M-1,-0.45H1V0.45H-1Z", "symbolSize": 1600, "symbolStrokeColor": "#8c8c8c", "symbolStrokeWidth": 1, "symbolOpacity": 1, "clipHeight": 20, "labelFontSize": 17, "labelOffset": 7, "labelLimit": 200}}}},
   {"data": {"name": "d3dos"}, "transform": [{"filter": "datum.c !== 'N all'"}], "mark": {"type": "line", "strokeWidth": 2},
    "encoding": {"x": {"field": "v", "type": "quantitative"}, "y": {"field": "E", "type": "quantitative"}, "detail": {"field": "g"}, "order": {"field": "E", "type": "quantitative"},
     "stroke": {"field": "c", "type": "nominal", "scale": {"domain": ["s","p","d"], "range": ["#1f6fe0","#b266e0","#19cfcf"]},
      "legend": {"orient": "none", "legendX": 25, "legendY": 58.7, "title": null, "symbolType": "stroke", "symbolSize": 1600, "symbolStrokeWidth": 3, "clipHeight": 20, "rowPadding": 1.7, "labelFontSize": 17, "labelOffset": 5, "labelLimit": 200}}}},
   {"data": {"values": [{"t": "(d₃)", "v": 0.04, "E": 4.53}]}, "mark": {"type": "text", "fontSize": 16, "fontWeight": "bold", "color": "black", "align": "left"},
    "encoding": {"x": {"field": "v", "type": "quantitative"}, "y": {"field": "E", "type": "quantitative"}, "text": {"field": "t"}}}
  ]}
 ], "spacing": 0, "bounds": "flush",
 "resolve": {"scale": {"color": "independent", "stroke": "independent", "fill": "independent"}, "legend": {"color": "independent", "stroke": "independent", "fill": "independent"}}}
],
"spacing": -3,
"resolve": {"scale": {"color": "independent", "stroke": "independent", "fill": "independent"}, "legend": {"color": "independent", "stroke": "independent", "fill": "independent"}},
"config": {
 "font": "Liberation Sans",
 "view": {"stroke": "black", "strokeWidth": 2},
 "axis": {"labelFont": "Liberation Sans", "labelFontWeight": "bold", "labelColor": "black", "titleFont": "Liberation Sans", "titleFontWeight": "bold", "titleColor": "black", "domain": false, "grid": false, "tickColor": "black", "tickWidth": 1.5},
 "legend": {"labelFont": "Liberation Sans", "labelFontWeight": "bold", "labelColor": "black", "padding": 0},
 "text": {"font": "Liberation Sans", "fontWeight": "bold"}
}
}
